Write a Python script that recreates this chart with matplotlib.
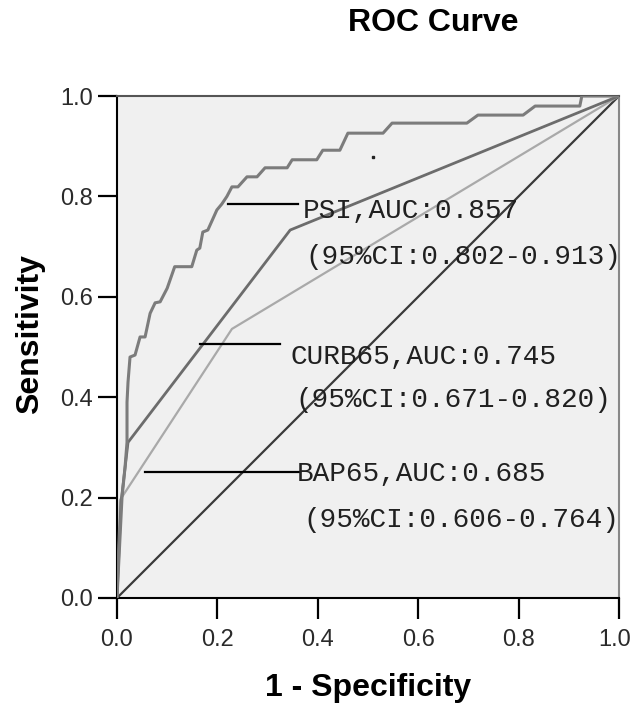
import matplotlib
matplotlib.use("Agg")
import matplotlib.pyplot as plt
import matplotlib.transforms as mtransforms

# ---- data ----
psi_fpr = [0, 0.006, 0.010, 0.016, 0.020, 0.020, 0.022, 0.026, 0.036, 0.046, 0.056,
           0.066, 0.076, 0.086, 0.100, 0.115, 0.149, 0.159, 0.165, 0.171, 0.181,
           0.199, 0.209, 0.219, 0.229, 0.241, 0.259, 0.279, 0.295, 0.339, 0.349,
           0.398, 0.410, 0.444, 0.460, 0.530, 0.548, 0.697, 0.719, 0.809, 0.833,
           0.922, 0.926, 1.0]
psi_tpr = [0, 0.12, 0.20, 0.26, 0.31, 0.39, 0.43, 0.48, 0.484, 0.52, 0.52,
           0.567, 0.588, 0.59, 0.617, 0.66, 0.66, 0.693, 0.697, 0.729, 0.733,
           0.773, 0.785, 0.80, 0.819, 0.819, 0.839, 0.839, 0.857, 0.857, 0.873,
           0.873, 0.892, 0.892, 0.926, 0.926, 0.946, 0.946, 0.962, 0.962, 0.98,
           0.98, 1.0, 1.0]

curb_fpr = [0, 0.008, 0.022, 0.345, 1.0]
curb_tpr = [0, 0.19, 0.31, 0.733, 1.0]

bap_fpr = [0, 0.006, 0.229, 1.0]
bap_tpr = [0, 0.195, 0.536, 1.0]

ref_line = [0, 1]

labels_line1 = ["PSI,AUC:0.857", "CURB65,AUC:0.745", "BAP65,AUC:0.685"]
labels_line2 = ["(95%CI:0.802-0.913)", "(95%CI:0.671-0.820)", "(95%CI:0.606-0.764)"]

ticks = [0.0, 0.2, 0.4, 0.6, 0.8, 1.0]
tick_labels = ["0.0", "0.2", "0.4", "0.6", "0.8", "1.0"]

# ---- figure ----
fig = plt.figure(figsize=(6.34, 7.06), dpi=100)
ax = fig.add_axes([0.1845, 0.153, 0.7918, 0.711])
ax.set_facecolor("#f0f0f0")

ax.plot(ref_line, ref_line, color="#3a3a3a", lw=1.6, zorder=2)
ax.plot(bap_fpr, bap_tpr, color="#a9a9a9", lw=1.6, zorder=3)
ax.plot(curb_fpr, curb_tpr, color="#6c6c6c", lw=2.0, zorder=4)
ax.plot(psi_fpr, psi_tpr, color="#7c7c7c", lw=2.2, zorder=5)
ax.plot([0.51], [0.878], marker="s", ms=1.5, color="#222222", lw=0)

# leader lines
leaders = [([0.221, 0.361], [0.785, 0.785]),
           ([0.165, 0.325], [0.506, 0.506]),
           ([0.056, 0.365], [0.251, 0.251])]
for lx, ly in leaders:
    ax.plot(lx, ly, color="black", lw=1.6, zorder=6)

txt_font = dict(family=["Liberation Mono", "DejaVu Sans Mono"], fontsize=20,
                color="#202020", va="center", ha="left", zorder=7)
pos1 = [(0.371, 0.771), (0.345, 0.480), (0.359, 0.247)]
pos2 = [(0.376, 0.679), (0.355, 0.394), (0.371, 0.155)]
for (x, y), t in zip(pos1, labels_line1):
    ax.text(x, y, t, **txt_font)
for (x, y), t in zip(pos2, labels_line2):
    ax.text(x, y, t, **txt_font)

ax.set_xlim(0, 1)
ax.set_ylim(0, 1)
ax.set_xticks(ticks)
ax.set_yticks(ticks)
ax.set_xticklabels(tick_labels)
ax.set_yticklabels(tick_labels)
for lab in ax.get_xticklabels() + ax.get_yticklabels():
    lab.set_family("Liberation Sans")
    lab.set_fontsize(17)
    lab.set_color("#2a2a2a")
ax.tick_params(axis="y", direction="out", length=14, width=1.6, pad=3)
ax.tick_params(axis="x", direction="out", length=15, width=1.6, pad=7)

# keep the last x tick label inside the canvas
last = ax.get_xticklabels()[-1]
last.set_transform(last.get_transform() +
                   mtransforms.ScaledTranslation(-4 / 100, 0, fig.dpi_scale_trans))

ax.spines["left"].set_color("black")
ax.spines["bottom"].set_color("black")
ax.spines["top"].set_color("#555555")
ax.spines["right"].set_color("#888888")
for s in ax.spines.values():
    s.set_linewidth(1.5)

fig.text(0.683, 0.967, "ROC Curve", ha="center", va="center",
         fontsize=23, fontweight="bold", family="Liberation Sans")
fig.text(0.580, 0.025, "1 - Specificity", ha="center", va="center",
         fontsize=23, fontweight="bold", family="Liberation Sans")
fig.text(0.047, 0.527, "Sensitivity", ha="center", va="center", rotation=90,
         fontsize=23, fontweight="bold", family="Liberation Sans")

fig.savefig("out.png", dpi=100)
